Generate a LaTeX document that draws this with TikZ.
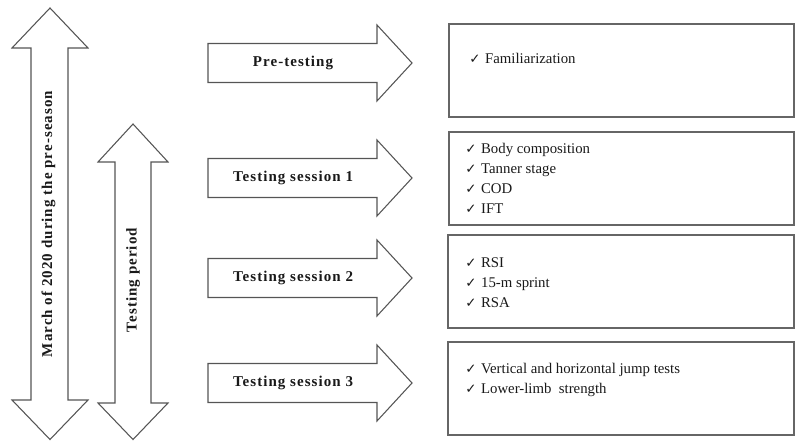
\documentclass[tikz,border=0pt]{standalone}
\usepackage{fontspec}
\setmainfont{Liberation Serif}
\newfontfamily\steplabelfont{Liberation Serif}[LetterSpace=7]
\newfontfamily\tickfont{DejaVu Sans}
\usetikzlibrary{positioning}

\definecolor{outlinegray}{HTML}{555555}
\definecolor{boxgray}{HTML}{666666}
\newcommand{\chk}{{\tickfont\fontsize{10}{10}\selectfont ✓}\hspace{3.5pt}}

\tikzset{
  outline/.style={draw=outlinegray, line width=0.8pt, line join=miter},
  framebox/.style={draw=boxgray, line width=1pt},
  steplabel/.style={font=\steplabelfont\bfseries\fontsize{11.25}{13}\selectfont, text=black!90, inner sep=0pt},
  checklist/.style={font=\fontsize{11.1}{15}\selectfont, align=left, anchor=base west, inner sep=0pt, text=black!90},
}

\begin{document}
\begin{tikzpicture}[x=0.75pt, y=-0.75pt]
  \useasboundingbox (0,0) rectangle (795,441);

  % === Left: double arrows for the season and the testing period ===
  \draw[outline] (50,8) -- (88,48) -- (68,48) -- (68,400) -- (88,400) -- (50,439.5)
    -- (12,400) -- (31,400) -- (31,48) -- (12,48) -- cycle;
  \node[steplabel, rotate=90] (season) at (48.5,224) {March of 2020 during the pre-season};

  \draw[outline] (133,124) -- (168,162) -- (151,162) -- (151,403) -- (168,403) -- (133,439.5)
    -- (98,403) -- (115,403) -- (115,162) -- (98,162) -- cycle;
  \node[steplabel, rotate=90] (period) at (133,280) {Testing period};

  % === Middle: one arrow per step ===
  \foreach \yc/\txt/\nm in {63/Pre-testing/pre, 178/Testing session 1/sone,
                            278/Testing session 2/stwo, 383/Testing session 3/sthree} {
    \draw[outline] (208,\yc-19.5) -- (377,\yc-19.5) -- (377,\yc-38) -- (412,\yc)
      -- (377,\yc+38) -- (377,\yc+19.5) -- (208,\yc+19.5) -- cycle;
    \node[steplabel] (\nm) at (293,\yc) {\txt};
  }

  % === Right: boxes with the tests (anchor is the last line) ===
  \draw[framebox] (449,24) rectangle (794,117);
  \draw[framebox] (449,132) rectangle (794,225);
  \draw[framebox] (448,235) rectangle (794,328);
  \draw[framebox] (448,342) rectangle (794,435);

  \node[checklist] (prelist) at (469,64) {\chk Familiarization};
  \node[checklist] (sonelist) at (465,214)
    {\chk Body composition\\ \chk Tanner stage\\ \chk COD\\ \chk IFT};
  \node[checklist] (stwolist) at (465,308)
    {\chk RSI\\ \chk 15-m sprint\\ \chk RSA};
  \node[checklist] (sthreelist) at (465,393)
    {\chk Vertical and horizontal jump tests\\ \chk Lower-limb\ \ strength};

\end{tikzpicture}
\end{document}
